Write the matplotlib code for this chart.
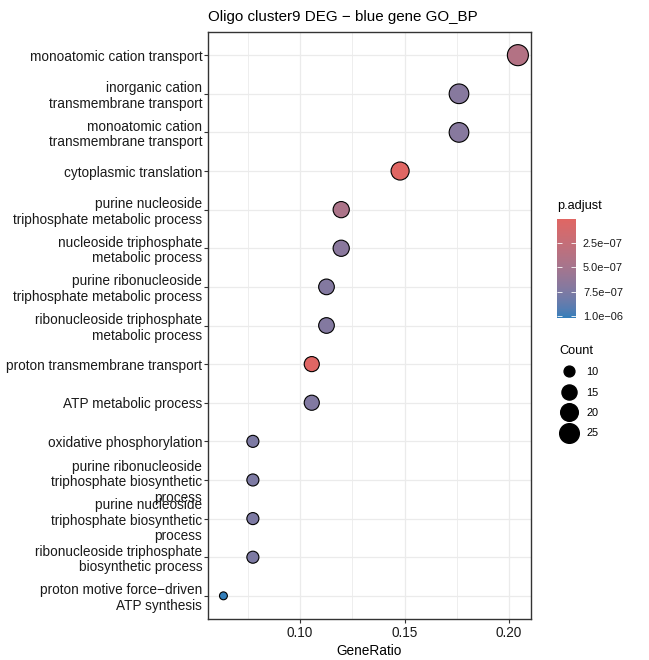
import numpy as np
import matplotlib
matplotlib.use("Agg")
import matplotlib.pyplot as plt
from matplotlib.colors import ListedColormap, Normalize
from matplotlib.lines import Line2D
import matplotlib.cm as cm

plt.rcParams['font.family'] = ['Liberation Sans', 'DejaVu Sans']

# ---------------- data ----------------
terms = [
    "monoatomic cation transport",
    "inorganic cation\ntransmembrane transport",
    "monoatomic cation\ntransmembrane transport",
    "cytoplasmic translation",
    "purine nucleoside\ntriphosphate metabolic process",
    "nucleoside triphosphate\nmetabolic process",
    "purine ribonucleoside\ntriphosphate metabolic process",
    "ribonucleoside triphosphate\nmetabolic process",
    "proton transmembrane transport",
    "ATP metabolic process",
    "oxidative phosphorylation",
    "purine ribonucleoside\ntriphosphate biosynthetic\nprocess",
    "purine nucleoside\ntriphosphate biosynthetic\nprocess",
    "ribonucleoside triphosphate\nbiosynthetic process",
    "proton motive force\u2212driven\nATP synthesis",
]
counts = [29, 25, 25, 21, 17, 17, 16, 16, 15, 15, 11, 11, 11, 11, 9]
gene_ratio = [c / 142 for c in counts]
p_adjust = [4.0e-7, 7.0e-7, 7.0e-7, 1.0e-8, 4.5e-7, 6.8e-7, 7.2e-7, 7.2e-7,
            2.0e-8, 7.3e-7, 7.5e-7, 7.5e-7, 7.5e-7, 7.5e-7, 1.02e-6]
size_legend_counts = [10, 15, 20, 25]
cbar_ticks = [2.5e-7, 5.0e-7, 7.5e-7, 1.0e-6]
cbar_ticklabels = ["2.5e\u221207", "5.0e\u221207", "7.5e\u221207", "1.0e\u221206"]
title = "Oligo cluster9 DEG \u2212 blue gene GO_BP"

# ---------------- colour scale (Lab interpolation like ggplot) ----------------
def hex2rgb(h):
    h = h.lstrip('#')
    return np.array([int(h[i:i + 2], 16) / 255 for i in (0, 2, 4)])

def srgb2lin(c):
    return np.where(c <= 0.04045, c / 12.92, ((c + 0.055) / 1.055) ** 2.4)

def lin2srgb(c):
    c = np.clip(c, 0, 1)
    return np.where(c <= 0.0031308, c * 12.92, 1.055 * c ** (1 / 2.4) - 0.055)

M = np.array([[0.4124, 0.3576, 0.1805], [0.2126, 0.7152, 0.0722], [0.0193, 0.1192, 0.9505]])
WP = np.array([0.95047, 1.0, 1.08883])

def rgb2lab(rgb):
    xyz = M @ srgb2lin(rgb) / WP
    f = np.where(xyz > (6 / 29) ** 3, np.cbrt(xyz), xyz / (3 * (6 / 29) ** 2) + 4 / 29)
    return np.array([116 * f[1] - 16, 500 * (f[0] - f[1]), 200 * (f[1] - f[2])])

def lab2rgb(lab):
    L, a, b = lab
    fy = (L + 16) / 116
    fx = fy + a / 500
    fz = fy - b / 200
    f = np.array([fx, fy, fz])
    xyz = np.where(f > 6 / 29, f ** 3, 3 * (6 / 29) ** 2 * (f - 4 / 29)) * WP
    return lin2srgb(np.linalg.inv(M) @ xyz)

low_lab = rgb2lab(hex2rgb("#e06663"))
high_lab = rgb2lab(hex2rgb("#327eba"))
cols = [lab2rgb(low_lab + t * (high_lab - low_lab)) for t in np.linspace(0, 1, 256)]
cmap = ListedColormap(cols)
norm = Normalize(vmin=min(p_adjust), vmax=max(p_adjust))

# ---------------- sizes (ggplot scale_size range 3..8, area) ----------------
cmin, cmax = min(counts), max(counts)
px_per_unit = 2.63

def diam_pt(c):
    t = np.clip((c - cmin) / (cmax - cmin), 0, 1)
    size = 3 + 5 * np.sqrt(t)
    return size * px_per_unit * 0.72

# ---------------- figure ----------------
fig = plt.figure(figsize=(6.49, 6.60), dpi=100)
ax = fig.add_axes([208 / 649, 1 - 619 / 660, (531 - 208) / 649, (619 - 32) / 660])

ypos = np.arange(len(terms))[::-1]
sizes = [diam_pt(c) ** 2 for c in counts]
ax.scatter(gene_ratio, ypos, s=sizes, c=p_adjust, cmap=cmap, norm=norm,
           edgecolors='black', linewidths=0.8, zorder=3)

ax.set_ylim(-0.6, len(terms) - 0.4)
ax.set_xlim(0.0560, 0.2105)
ax.set_yticks(ypos)
ax.set_yticklabels(terms, fontsize=9.85, linespacing=1.14)
ax.set_xticks([0.10, 0.15, 0.20])
ax.set_xticklabels(["0.10", "0.15", "0.20"], fontsize=9.85)
ax.set_xticks([0.075, 0.125, 0.175], minor=True)
ax.grid(True, which='major', color='#EBEBEB', linewidth=0.9, zorder=0)
ax.grid(True, which='minor', axis='x', color='#EBEBEB', linewidth=0.6, zorder=0)
ax.set_axisbelow(True)
ax.tick_params(axis='both', which='major', length=3, width=0.8, color='#333333',
               labelcolor='#1A1A1A', pad=2)
ax.tick_params(axis='y', which='major', pad=1.2)
ax.tick_params(axis='x', which='minor', length=0)
for sp in ax.spines.values():
    sp.set_color('#333333')
    sp.set_linewidth(1.0)
ax.set_xlabel("GeneRatio", fontsize=9.85, labelpad=3)
ax.set_title(title, loc='left', fontsize=10.9, pad=8)

# ---------------- colorbar ----------------
cax = fig.add_axes([557 / 649, 1 - 318 / 660, 19 / 649, 99 / 660])
cb = fig.colorbar(cm.ScalarMappable(norm=norm, cmap=cmap), cax=cax)
cb.outline.set_visible(False)
cb.set_ticks(cbar_ticks)
cb.set_ticklabels(cbar_ticklabels)
cax.invert_yaxis()
cax.yaxis.set_ticks_position('both')
cax.tick_params(which='major', direction='in', length=3.5, width=0.6, color='white',
                labelsize=7.9, labelcolor='#1A1A1A', pad=5, labelleft=False, labelright=True)
cax.minorticks_off()
fig.text(557 / 649, 1 - 206 / 660, "p.adjust", fontsize=9.2, va='center', ha='left')

# ---------------- size legend ----------------
handles = [Line2D([], [], linestyle='none', marker='o', markersize=diam_pt(c),
                  markerfacecolor='black', markeredgecolor='black')
           for c in size_legend_counts]
leg = fig.legend(handles, [str(c) for c in size_legend_counts], title="Count",
                 loc='upper left', bbox_to_anchor=(552 / 649, 1 - 337 / 660),
                 frameon=False, fontsize=7.9, title_fontsize=9.2, alignment='left',
                 labelspacing=0.95, handletextpad=0.75, borderpad=0.2, handlelength=1.7)

fig.savefig("out.png", dpi=100)
